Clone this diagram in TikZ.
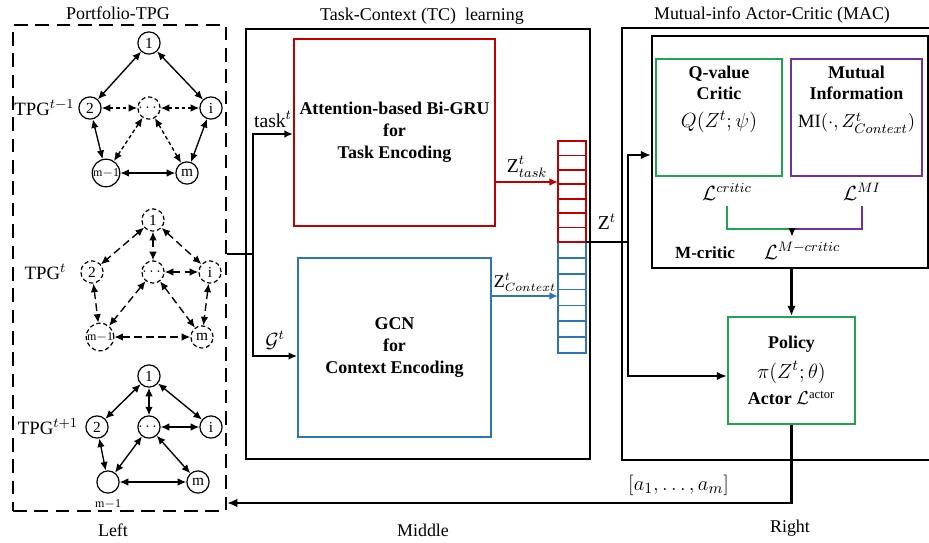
\documentclass[tikz,border=0pt]{standalone}
\usepackage{amsmath}
\usepackage{fontspec}
\setmainfont{Liberation Serif}
\usetikzlibrary{arrows.meta,positioning,calc}
\definecolor{encred}{RGB}{192,0,0}
\definecolor{encblue}{RGB}{46,117,182}
\definecolor{critgreen}{RGB}{30,165,80}
\definecolor{mipurple}{RGB}{112,48,160}

\begin{document}
\begin{tikzpicture}[x=0.585pt,y=-0.585pt,font=\fontsize{10.5}{12.5}\selectfont,
   tpg/.style={circle,draw,line width=0.7pt,minimum size=13pt,inner sep=0pt,font=\small},
   tpgd/.style={tpg,dash pattern=on 2.5pt off 1.6pt},
   lk/.style={{Latex[length=5pt,width=4.4pt]}-{Latex[length=5pt,width=4.4pt]},line width=0.8pt},
   lkdot/.style={lk,dash pattern=on 2.2pt off 1.6pt},
   lkd/.style={lk,dash pattern=on 4.5pt off 2.5pt},
   arr/.style={-{Latex[length=5pt,width=4.5pt]},line width=1.1pt},
   barr/.style={-{Latex[length=6pt,width=5pt]},line width=1.7pt},
   frame/.style={draw,line width=1.1pt},
   enc/.style={draw,line width=1.1pt,minimum width=112.9pt,align=center,
               font=\fontsize{10.5}{13}\selectfont\bfseries},
   lbl/.style={font=\fontsize{11.5}{13}\selectfont},
   tpglbl/.style={font=\fontsize{11}{13}\selectfont,inner sep=1pt}]
  \useasboundingbox (0,0) rectangle (929,542);

  % Portfolio-TPG snapshots
  \node[draw,line width=1.2pt,dash pattern=on 8pt off 4.5pt,
        minimum width=124.6pt,minimum height=284.3pt] (tpgbox) at (119.5,268) {};
  \node at (118,13) {Portfolio-TPG};

  % TPG at t-1
  \node[tpg]  (a1)  at (149,43)  {1};
  \node[tpg]  (a2)  at (90,108)  {2};
  \node[tpgd] (ad)  at (149,108) {$\cdots$};
  \node[tpg]  (ai)  at (211,108) {i};
  \node[tpg]  (am1) at (106,173) {\scriptsize m$-$1};
  \node[tpg]  (am)  at (187,173) {m};
  \node[tpglbl,left=1pt of a2] {TPG$^{t-1}$};
  \foreach \u/\v in {a1/a2,a1/ai,a2/am1,ai/am,am1/am}
    \draw[lk] (\u) -- (\v);
  \foreach \u/\v in {a2/ad,ad/ai,ad/am1,ad/am}
    \draw[lkdot] (\u) -- (\v);

  % TPG at t
  \node[tpgd] (b1)  at (153,220) {1};
  \node[tpgd] (b2)  at (92,272)  {2};
  \node[tpgd] (bd)  at (153,272) {$\cdots$};
  \node[tpgd] (bi)  at (210,272) {i};
  \node[tpgd] (bm1) at (100,337) {\scriptsize m$-$1};
  \node[tpgd] (bm)  at (202,337) {m};
  \node[tpglbl,left=7pt of b2] {TPG$^{t}$};
  \foreach \u/\v in {b1/b2,b1/bi,b1/bd,bd/bi,b2/bm1,bi/bm,bd/bm1,bd/bm,bm1/bm}
    \draw[lkd] (\u) -- (\v);

  % TPG at t+1
  \node[tpg] (c1)  at (149,376) {1};
  \node[tpg] (c2)  at (97,427)  {2};
  \node[tpg] (cd)  at (149,427) {$\cdots$};
  \node[tpg] (ci)  at (211,427) {i};
  \node[tpg] (cm1) at (108,482) {};
  \node[tpg] (cm)  at (198,482) {m};
  \node[below=0pt of cm1,font=\scriptsize] {m$-$1};
  \node[tpglbl,left=3pt of c2] {TPG$^{t+1}$};
  \foreach \u/\v in {c1/c2,c1/ci,c1/cd,cd/ci,c2/cm1,cd/cm1,cd/cm,cm1/cm}
    \draw[lk] (\u) -- (\v);

  % Task-Context learning
  \node[frame,minimum width=201.2pt,minimum height=251.6pt] (tcbox) at (418,244) {};
  \node at (422,16) {Task-Context (TC)~~learning};
  \node[enc,draw=encred,minimum height=109.4pt] (task) at (394.5,132.5)
       {Attention-based Bi-GRU\\for\\Task Encoding};
  \node[enc,draw=encblue,minimum height=104.7pt] (ctx) at (394.5,347.5)
       {GCN\\for\\Context Encoding};

  % latent vector Z^t
  \foreach \k in {0,...,6}
    \draw[encblue,line width=1pt] (558,{242+\k*15.86}) rectangle (586,{242+(\k+1)*15.86});
  \foreach \k in {0,...,6}
    \draw[encred,line width=1pt] (558,{141+\k*14.43}) rectangle (586,{141+(\k+1)*14.43});
  \coordinate (zin) at (558,182);
  \coordinate (cin) at (558,296);
  \coordinate (zout) at (586,242);

  \draw[arr,encred] (task.east |- zin) -- (zin)
       node[midway,above=1pt,black,lbl,inner sep=1pt] {$\mathrm{Z}^t_{task}$};
  \draw[arr,encblue] (ctx.east |- cin) -- (cin)
       node[midway,above=1pt,black,inner sep=1pt,font=\fontsize{10.5}{12}\selectfont] {$\mathrm{Z}^t_{Context}$};

  % inputs from the TPG
  \coordinate (fork) at (253,254);
  \draw[line width=1.1pt] (tpgbox.east |- fork) -- (fork);
  \draw[arr] (fork) |- (task.west |- 0,134) node[pos=0.75,above,lbl] {task$^t$};
  \draw[arr] (fork) |- (ctx.west |- 0,356) node[pos=0.75,above,lbl] {$\mathcal{G}^t$};

  % Mutual-info Actor-Critic
  \draw[frame] (929,28) -- (622,28) -- (622,460) -- (929,460);
  \node at (772,15) {Mutual-info Actor-Critic (MAC)};
  \node[frame,minimum width=161.5pt,minimum height=135.7pt] (mc) at (790,152) {};

  \node[draw=critgreen,line width=1.1pt,minimum width=73.7pt,minimum height=68.4pt] (qv) at (719,117.5) {};
  \node[below=1pt of qv.north,align=center]
       {\textbf{Q-value}\\\textbf{Critic}\\[4pt]{\fontsize{12.5}{14}\selectfont$Q(Z^t;\psi)$}};
  \node[draw=mipurple,line width=1.1pt,minimum width=76.6pt,minimum height=68.4pt] (mi) at (856.5,117.5) {};
  \node[below=1pt of mi.north,align=center,inner xsep=1pt]
       {\textbf{Mutual}\\\textbf{Information}\\[4pt]{\fontsize{11}{14}\selectfont$\mathrm{MI}(\cdot,Z^t_{Context})$}};

  \node[lbl] (lcrit) at (727,192) {$\mathcal{L}^{critic}$};
  \node[lbl] (lmi) at (862,192) {$\mathcal{L}^{MI}$};
  \coordinate (lmix) at (792,229);
  \draw[critgreen,line width=1.1pt] (lcrit.south) |- (lmix);
  \draw[mipurple,line width=1.1pt] (lmi.south) |- (lmix);
  \node[lbl] (lmc) at (802,251) {$\mathcal{L}^{M-critic}$};
  \draw[arr,line width=0.9pt] (lmix) -- (lmix |- lmc.north);
  \node[font=\bfseries] at (705,253) {M-critic};

  \node[draw=critgreen,line width=1.1pt,minimum width=74.3pt,minimum height=62.6pt,align=center]
       (pol) at (791.5,370.5)
       {\textbf{Policy}\\[5pt]{\fontsize{12.5}{14}\selectfont$\pi(Z^t;\theta)$}\\[3pt]\textbf{Actor} $\mathcal{L}^{\text{actor}}$};
  \draw[barr] (mc.south -| pol.north) -- (pol.north);

  % Z^t to critic and actor
  \coordinate (zfork) at (628,242);
  \draw[line width=1.7pt] (zout) -- (zfork) node[midway,above=3pt,lbl] {$\mathrm{Z}^t$};
  \draw[barr] (zfork) |- (mc.west |- 0,155);
  \draw[barr] (zfork) |- (pol.west |- 0,376);

  % actions back to the portfolio
  \draw[barr] (pol.south) |- (tpgbox.east |- 0,503)
       node[pos=0.6,above,font=\fontsize{13}{15}\selectfont] {$[a_1,\ldots,a_m]$};

  \node at (113,530) {Left};
  \node at (423,530) {Middle};
  \node at (790,528) {Right};
\end{tikzpicture}
\end{document}
